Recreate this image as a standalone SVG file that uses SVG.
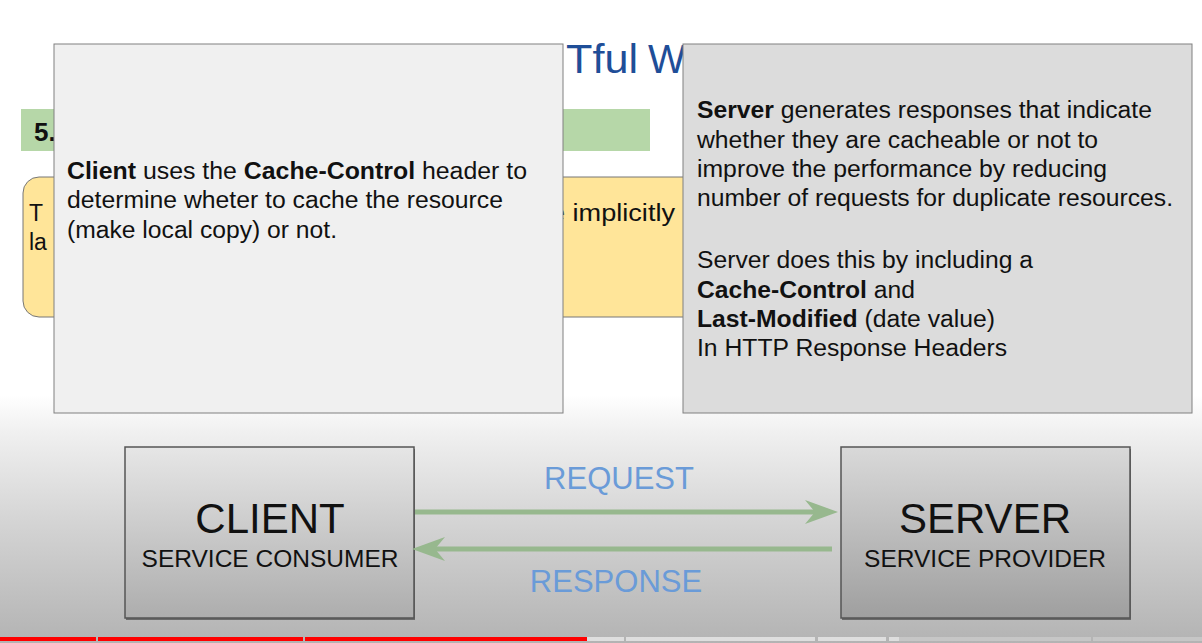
<svg xmlns="http://www.w3.org/2000/svg" width="1202" height="643" viewBox="0 0 1202 643">
<defs>
<linearGradient id="bgGrad" x1="0" y1="0" x2="0" y2="1">
<stop offset="0" stop-color="#ffffff"/>
<stop offset="0.15" stop-color="#f0f0f0"/>
<stop offset="0.5" stop-color="#d5d5d5"/>
<stop offset="1" stop-color="#b3b3b3"/>
</linearGradient>
<linearGradient id="clientGrad" x1="0" y1="0" x2="0" y2="1">
<stop offset="0" stop-color="#e6e6e6"/>
<stop offset="1" stop-color="#adadad"/>
</linearGradient>
<linearGradient id="serverGrad" x1="0" y1="0" x2="0" y2="1">
<stop offset="0" stop-color="#d9d9d9"/>
<stop offset="1" stop-color="#9f9f9f"/>
</linearGradient>
<marker id="head" markerUnits="userSpaceOnUse" markerWidth="34" markerHeight="26" refX="17" refY="12" orient="auto" overflow="visible">
<path d="M0,0 L33,12 L0,24 L10,12 Z" fill="#97b88e"/>
</marker>
</defs>
<style>
.txt{font-family:"Liberation Sans",Arial,sans-serif;fill:#111}
.body{font-size:23px}
.b{font-weight:bold}
.popup{stroke:#808080;stroke-width:1}
.node{stroke:#555;stroke-width:1.5}
.shadow{fill:#6a6a6a}
.big{font-size:42px;text-anchor:middle}
.sub{font-size:24.5px;text-anchor:middle}
.lbl{font-family:"Liberation Sans",Arial,sans-serif;font-size:31px;fill:#6a9bd8;text-anchor:middle}
.conn{stroke:#97b88e;stroke-width:5;fill:none}
</style>

<rect x="0" y="0" width="1202" height="643" fill="#ffffff"/>
<rect x="0" y="395" width="1202" height="248" fill="url(#bgGrad)"/>

<g id="slide-background">
<text x="566" y="73" font-family="'Liberation Sans',Arial,sans-serif" font-size="40" fill="#1f4e98"><tspan x="566" textLength="72" lengthAdjust="spacingAndGlyphs">Tful</tspan><tspan x="637"> W</tspan></text>
<rect x="21" y="109" width="629" height="42" fill="#b6d7a8"/>
<text x="34" y="141" class="txt b" font-size="26">5.</text>
<rect x="23" y="177" width="700" height="140" rx="16" fill="#ffe599" stroke="#777" stroke-width="1"/>
<text x="29" y="221" class="txt body">T</text>
<text x="29" y="250" class="txt body">la</text>
<text x="675" y="221" class="txt body" text-anchor="end" textLength="125" lengthAdjust="spacingAndGlyphs">e implicitly</text>
</g>

<g id="client-note">
<rect x="54" y="44" width="509" height="369" fill="#f0f0f0" class="popup"/>
<text x="67" y="178.5" class="txt body" textLength="460" lengthAdjust="spacingAndGlyphs"><tspan class="b">Client</tspan> uses the <tspan class="b">Cache-Control</tspan> header to</text>
<text x="67" y="208" class="txt body" textLength="436" lengthAdjust="spacingAndGlyphs">determine wheter to cache the resource</text>
<text x="67" y="237.5" class="txt body" textLength="270" lengthAdjust="spacingAndGlyphs">(make local copy) or not.</text>
</g>

<g id="server-note">
<rect x="683" y="44" width="509" height="369" fill="#dcdcdc" class="popup"/>
<text x="697" y="118" class="txt body" textLength="455" lengthAdjust="spacingAndGlyphs"><tspan class="b">Server</tspan> generates responses that indicate</text>
<text x="697" y="147.5" class="txt body" textLength="401" lengthAdjust="spacingAndGlyphs">whether they are cacheable or not to</text>
<text x="697" y="177" class="txt body" textLength="410" lengthAdjust="spacingAndGlyphs">improve the performance by reducing</text>
<text x="697" y="206" class="txt body" textLength="476" lengthAdjust="spacingAndGlyphs">number of requests for duplicate resources.</text>
<text x="697" y="268" class="txt body" textLength="336" lengthAdjust="spacingAndGlyphs">Server does this by including a</text>
<text x="697" y="297.5" class="txt body" textLength="218" lengthAdjust="spacingAndGlyphs"><tspan class="b">Cache-Control</tspan> and</text>
<text x="697" y="327" class="txt body" textLength="298" lengthAdjust="spacingAndGlyphs"><tspan class="b">Last-Modified</tspan> (date value)</text>
<text x="697" y="356" class="txt body" textLength="310" lengthAdjust="spacingAndGlyphs">In HTTP Response Headers</text>
</g>

<g id="client">
<rect x="126" y="449" width="289" height="171" class="shadow"/>
<rect x="125" y="447" width="289" height="171" fill="url(#clientGrad)" class="node"/>
<text x="270" y="533" class="txt big">CLIENT</text>
<text x="270" y="567" class="txt sub">SERVICE CONSUMER</text>
</g>

<g id="server">
<rect x="842" y="449" width="289" height="171" class="shadow"/>
<rect x="841" y="447" width="289" height="171" fill="url(#serverGrad)" class="node"/>
<text x="985" y="533" class="txt big">SERVER</text>
<text x="985" y="567" class="txt sub">SERVICE PROVIDER</text>
</g>

<g id="connectors">
<line x1="415" y1="512" x2="822" y2="512" class="conn" marker-end="url(#head)"/>
<text x="619" y="489" class="lbl">REQUEST</text>
<line x1="832" y1="549" x2="428" y2="549" class="conn" marker-end="url(#head)"/>
<text x="616" y="592" class="lbl">RESPONSE</text>
</g>

<g id="progress-bar">
<rect x="0" y="637" width="96" height="4" fill="#ff0000"/>
<rect x="98" y="637" width="205" height="4" fill="#ff0000"/>
<rect x="305" y="637" width="282" height="4" fill="#ff0000"/>
<rect x="587" y="637" width="37" height="4" fill="#dedede"/>
<rect x="626" y="637" width="189" height="4" fill="#dedede"/>
<rect x="818" y="637" width="68" height="4" fill="#dedede"/>
<rect x="889" y="637" width="10" height="4" fill="#dedede"/>
<rect x="899" y="637" width="192" height="4" fill="#c6c6c6"/>
<rect x="1093" y="637" width="109" height="4" fill="#c6c6c6"/>
</g>
</svg>
